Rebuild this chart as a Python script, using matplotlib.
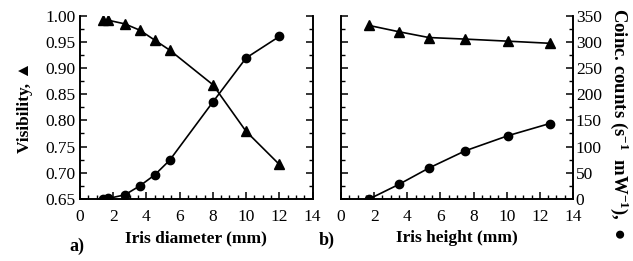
import matplotlib
matplotlib.use("Agg")
import matplotlib.pyplot as plt
from matplotlib.ticker import MultipleLocator

plt.rcParams['font.family'] = ['Liberation Serif', 'DejaVu Sans']
plt.rcParams['mathtext.fontset'] = 'custom'
plt.rcParams['mathtext.rm'] = 'Liberation Serif:bold'
plt.rcParams['mathtext.default'] = 'rm'

# a) iris diameter scan
diam_mm = [1.4, 1.7, 2.7, 3.6, 4.5, 5.4, 8.0, 10.0, 12.0]
diam_vis = [0.991, 0.991, 0.984, 0.972, 0.953, 0.934, 0.868, 0.779, 0.716]
diam_counts = [0, 1, 8, 25, 46, 74, 185, 269, 310]

# b) iris height scan
height_mm = [1.7, 3.5, 5.3, 7.5, 10.1, 12.6]
height_vis = [0.981, 0.969, 0.958, 0.955, 0.951, 0.947]
height_counts = [0, 28, 59, 92, 121, 144]

fig = plt.figure(figsize=(6.33, 2.61), dpi=100)
ax_a = fig.add_axes([0.1264, 0.2375, 0.3673, 0.7031])
ax_b = fig.add_axes([0.5387, 0.2375, 0.3665, 0.7031])


def style(ax, twin, x, vis, counts):
    ax.plot(x, vis, color='black', lw=1.2, marker='^', ms=7.5, zorder=3)
    twin.plot(x, counts, color='black', lw=1.2, marker='o', ms=6, zorder=3)
    ax.set_xlim(0, 14)
    ax.set_ylim(0.65, 1.0)
    twin.set_ylim(0, 350)
    ax.xaxis.set_major_locator(MultipleLocator(2))
    ax.xaxis.set_minor_locator(MultipleLocator(0.5))
    ax.yaxis.set_major_locator(MultipleLocator(0.05))
    ax.yaxis.set_minor_locator(MultipleLocator(0.025))
    twin.yaxis.set_major_locator(MultipleLocator(50))
    twin.yaxis.set_minor_locator(MultipleLocator(25))
    for a in (ax, twin):
        a.spines['top'].set_visible(False)
        for s in a.spines.values():
            s.set_linewidth(1.2)
        a.tick_params(which='major', direction='in', length=5, width=1.1, labelsize=12.5, pad=3)
        a.tick_params(which='minor', direction='in', length=3, width=1.0)
    ax.tick_params(axis='x', pad=7)
    ax.tick_params(axis='y', which='both', right=False)
    ax.tick_params(axis='x', which='both', top=False)


twin_a = ax_a.twinx()
style(ax_a, twin_a, diam_mm, diam_vis, diam_counts)
ax_a.yaxis.set_major_formatter(plt.FormatStrFormatter('%.2f'))
twin_a.set_yticklabels([])

twin_b = ax_b.twinx()
style(ax_b, twin_b, height_mm, height_vis, height_counts)
ax_b.set_yticklabels([])
twin_b.tick_params(axis='y', pad=2)

ax_a.set_xlabel('Iris diameter (mm)', fontsize=12.5, fontweight='bold', labelpad=4)
ax_b.set_xlabel('Iris height (mm)', fontsize=12.5, fontweight='bold', labelpad=4)
ax_a.set_ylabel('Visibility, \u25B2', fontsize=12.5, fontweight='bold', labelpad=9)

fig.text(0.978, 0.525, 'Coinc. counts (s$^{-1}$  mW$^{-1}$),  \u25CF', rotation=270,
         fontsize=13.5, fontweight='bold', ha='center', va='center')
fig.text(0.122, 0.058, 'a)', fontsize=13, fontweight='bold', ha='center', va='center')
fig.text(0.516, 0.08, 'b)', fontsize=13, fontweight='bold', ha='center', va='center')

fig.savefig('out.png', dpi=100)
